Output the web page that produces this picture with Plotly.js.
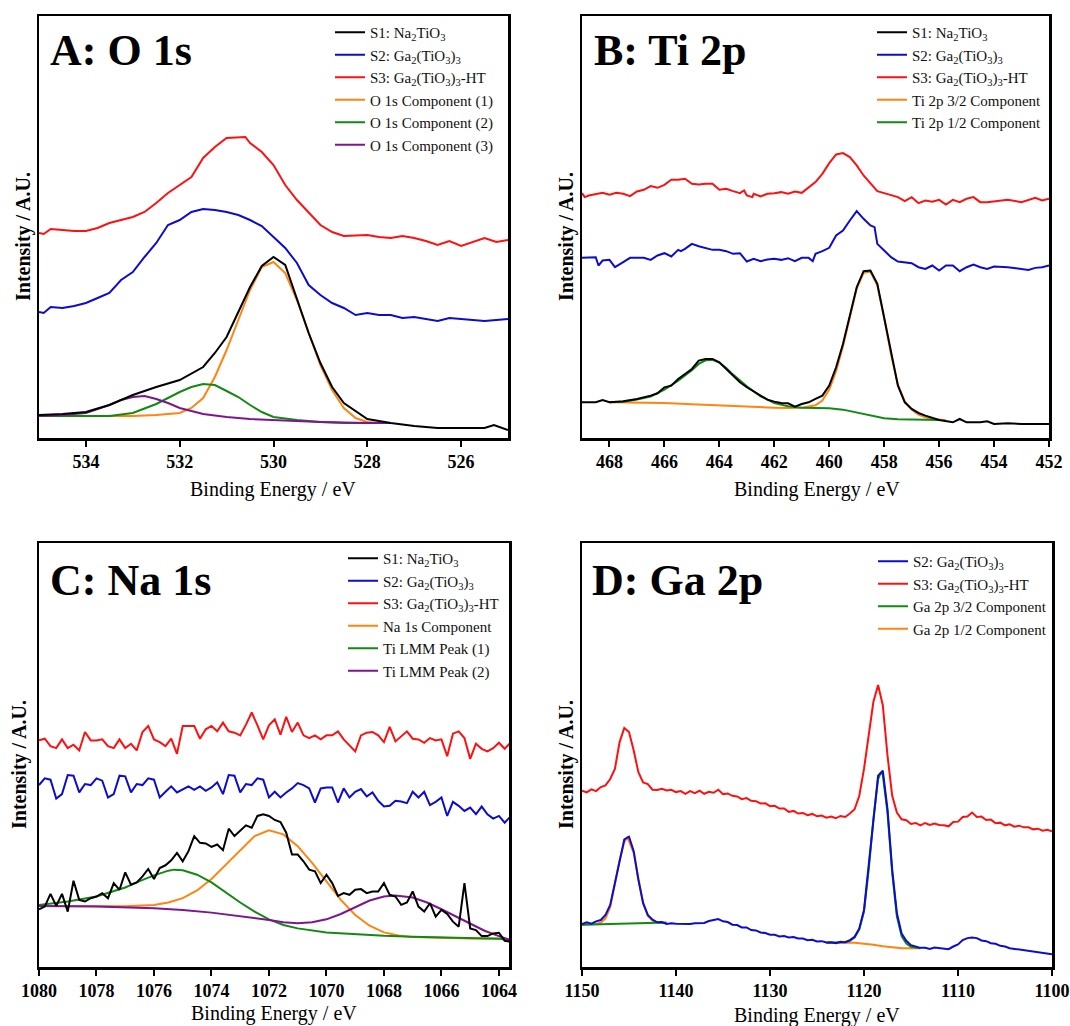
<!DOCTYPE html>
<html>
<head>
<meta charset="utf-8">
<script src="https://cdn.plot.ly/plotly-3.0.1.min.js"></script>
<style>
html,body{margin:0;padding:0;background:#fff;}
#chart{width:1070px;height:1026px;}
</style>
</head>
<body>
<div id="chart"></div>
<script>
// ---------------- Panel A: O 1s ----------------
const o1sS1x = [535,534.5,534,533.5,533,532.5,532,531.5,531.25,531,530.75,530.5,530.25,530,529.75,529.5,529.25,529,528.75,528.5,528,527.5,527,526.5,526,525.5,525.3,525];
const o1sS1y = [23,24,26,33,43,51,58,71,85,101,126,151,172,181,173,138,105,75,51,35,19,15,12,10,10,10,13,8];
const o1sS2x = [535,534.9,534.75,534.5,534.25,534,533.75,533.5,533.25,533,532.75,532.5,532.25,532,531.75,531.5,531.25,531,530.75,530.5,530.25,530,529.75,529.5,529.25,529,528.75,528.5,528.25,528,527.75,527.5,527.25,527,526.75,526.5,526.25,526,525.5,525];
const o1sS2y = [126,125,131,130,132,135,140,145,158,166,181,195,213,218,226,229,228,226,223,218,212,201,190,175,153,143,135,130,123,125,123,123,120,121,119,117,120,119,117,119];
const o1sS3x = [535,534.9,534.75,534.5,534.25,534,533.75,533.5,533.25,533,532.75,532.5,532.25,532,531.75,531.5,531.25,531,530.75,530.6,530.5,530.25,530,529.75,529.5,529.25,529,528.75,528.5,528,527.75,527.5,527.25,527,526.75,526.5,526.25,526,525.75,525.5,525.25,525];
const o1sS3y = [205,204,209,208,207,207,210,215,218,221,226,235,245,253,261,280,291,300,301,301,295,286,273,253,238,225,213,206,202,203,201,200,202,200,197,193,197,192,196,200,196,198];
const o1sC1x = [535,534,533,532.5,532,531.75,531.5,531.25,531,530.75,530.5,530.25,530,529.75,529.5,529.25,529,528.75,528.5,528.25,528,527.75];
const o1sC1y = [22,22,22,23,25,30,40,61,88,118,148,171,176,165,138,105,73,48,30,20,16,15];
const o1sC2x = [535,534,533.5,533,532.5,532,531.75,531.5,531.25,531,530.75,530.5,530.25,530,529.5,529,528.5,528,527.5];
const o1sC2y = [22,22,22,25,34,46,51,54,53,47,41,33,26,21,18,16,15,15,15];
const o1sC3x = [535,534.5,534,533.5,533.25,533,532.75,532.5,532.25,532,531.5,531,530.5,530,529,528,527.5];
const o1sC3y = [22,23,25,33,38,41,42,39,35,30,24,21,19,18,16,15,15];

// ---------------- Panel B: Ti 2p ----------------
const ti2pS1x = [469,468.5,468.25,468,467.5,467,466.5,466.25,466,465.75,465.5,465.25,465,464.75,464.5,464.25,464,463.75,463.5,463.25,463,462.75,462.5,462.25,462,461.75,461.5,461.25,461,460.75,460.5,460.25,460,459.75,459.5,459.25,459,458.75,458.5,458.25,458,457.75,457.5,457.25,457,456.75,456.5,456,455.5,455.25,455,454.5,454.25,454,453.5,453,452.5,452];
const ti2pS1y = [107,107,114,107,110,117,127,134,152,157,177,192,207,232,237,237,227,207,187,167,152,140,127,115,109,105,104,94,102,107,117,127,157,212,282,372,452,500,502,462,362,252,157,107,87,75,67,54,47,57,47,47,50,42,44,42,42,42];
const ti2pS2x = [469,468.75,468.5,468.4,468.25,468,467.8,467.5,467.25,467,466.75,466.5,466.25,466,465.75,465.5,465.4,465.25,465,464.75,464.5,464.25,464,463.75,463.5,463.25,463,462.75,462.5,462.25,462,461.75,461.5,461.25,461,460.75,460.6,460.5,460.25,460,459.75,459.5,459.25,459,458.75,458.5,458.35,458.25,458,457.75,457.5,457,456.75,456.5,456.25,456,455.75,455.5,455.25,455,454.75,454.5,454.25,454,453.5,453,452.75,452.5,452.25,452];
const ti2pS2y = [540,540,542,517,532,534,512,527,540,540,540,534,547,554,544,564,560,567,582,575,570,564,564,560,552,554,529,537,530,535,537,534,539,530,540,540,530,552,560,570,607,622,652,680,657,637,632,582,562,542,529,524,512,507,517,502,517,517,500,512,520,512,507,514,512,507,504,510,512,517];
const ti2pS3x = [469,468.9,468.75,468.5,468.25,468,467.75,467.5,467.25,467,466.75,466.5,466.25,466,465.75,465.5,465.25,465,464.75,464.5,464.25,464,463.75,463.5,463.25,463.1,463,462.8,462.75,462.5,462.25,462,461.75,461.5,461.25,461,460.75,460.5,460.25,460,459.75,459.5,459.25,459,458.75,458.5,458.25,458,457.75,457.5,457.25,457,456.75,456.5,456.25,456,455.75,455.5,455.25,455,454.75,454.5,454.25,454,453.5,453,452.5,452.25,452];
const ti2pS3y = [734,722,727,730,735,729,735,732,725,739,744,755,750,759,774,774,777,762,760,762,762,744,747,740,734,742,727,722,732,724,732,734,737,732,739,735,752,767,792,824,850,854,842,817,787,762,740,734,727,722,710,722,704,712,708,714,700,714,707,717,722,707,707,710,714,707,720,712,717];
const ti2p32x = [468,467,466,465,464,463,462,461.5,461,460.5,460.25,460,459.75,459.5,459.25,459,458.75,458.5,458.25,458,457.75,457.5,457.25,457,456.75,456.5,456.25,456,455.75];
const ti2p32y = [107,106,105,101,97,93,91,90,91,98,112,145,200,275,365,448,495,498,458,360,250,160,110,85,70,62,57,54,53];
const ti2p12x = [468,467.5,467,466.5,466,465.5,465,464.75,464.5,464.25,464,463.75,463.5,463,462.5,462,461.5,461,460.5,460,459.5,459,458.5,458,457.5,457,456];
const ti2p12y = [107,109,115,124,145,172,203,222,233,234,226,210,190,155,125,105,95,91,90,89,85,76,66,59,56,55,54];

// ---------------- Panel C: Na 1s ----------------
const na1sX = [1080,1079.8,1079.6,1079.4,1079.2,1079,1078.8,1078.6,1078.4,1078.2,
  1078,1077.8,1077.6,1077.4,1077.2,1077,1076.8,1076.6,1076.4,1076.2,
  1076,1075.8,1075.6,1075.4,1075.2,1075,1074.8,1074.6,1074.4,1074.2,
  1074,1073.8,1073.6,1073.4,1073.2,1073,1072.8,1072.6,1072.4,1072.2,
  1072,1071.8,1071.6,1071.4,1071.2,1071,1070.8,1070.6,1070.4,1070.2,
  1070,1069.8,1069.6,1069.4,1069.2,1069,1068.8,1068.6,1068.4,1068.2,
  1068,1067.8,1067.6,1067.4,1067.2,1067,1066.8,1066.6,1066.4,1066.2,
  1066,1065.8,1065.6,1065.4,1065.2,1065,1064.8,1064.6,1064.4,1064.2,
  1064,1063.8,1063.6];
const na1sS1y = [172,180,218,182,218,165,257,200,195,205,
  210,220,205,250,230,282,245,252,270,292,
  262,295,303,318,340,315,345,390,370,368,
  358,365,348,412,390,405,422,415,450,455,
  450,438,432,400,335,335,315,290,285,250,
  275,250,212,220,215,230,232,220,225,225,
  250,215,210,185,192,225,180,165,190,150,
  170,158,135,120,250,115,110,92,92,100,
  102,78,75];
const na1sS2y = [542,562,558,502,515,572,570,520,545,542,
  562,555,505,515,570,568,520,545,542,562,
  558,505,522,538,520,528,538,528,538,525,
  535,550,515,572,570,520,545,542,562,558,
  505,522,505,520,532,548,542,532,490,532,
  535,535,490,532,505,522,530,508,520,495,
  478,480,495,493,488,522,505,522,482,492,
  505,450,492,480,465,475,455,478,455,442,
  450,430,448];
const na1sS3y = [675,680,658,652,678,652,662,645,700,675,
  675,678,658,652,678,652,665,645,700,718,
  678,670,658,680,635,718,718,718,680,708,
  718,702,728,702,698,690,722,758,720,678,
  720,738,692,745,700,728,690,682,690,678,
  690,690,702,678,660,642,690,698,700,690,
  670,715,672,688,702,680,678,668,682,675,
  678,628,695,702,682,620,665,650,642,652,
  668,650,668];
const na1sCx = [1080,1078,1077,1076,1075.5,1075,1074.5,1074,1073.5,1073,1072.5,1072,1071.5,1071,1070.5,1070,1069.5,1069,1068.5,1068,1067.5,1067,1066,1065,1064,1063.6];
const na1sCy = [182,182,181,185,192,205,228,262,305,350,390,407,395,360,310,255,200,155,123,103,94,89,86,85,85,82];
const tiLmm1x = [1080,1079,1078,1077,1076.5,1076,1075.5,1075.3,1075,1074.5,1074,1073.5,1073,1072.5,1072,1071.5,1071,1070,1069,1068,1067,1066,1065,1064,1063.6];
const tiLmm1y = [185,195,210,237,256,273,287,290,288,275,252,222,192,165,142,125,115,103,97,93,90,88,86,84,80];
const tiLmm2x = [1080,1078,1076,1075,1074,1073,1072,1071.5,1071,1070.5,1070,1069.5,1069,1068.5,1068,1067.6,1067,1066.5,1066,1065.5,1065,1064.5,1064,1063.6];
const tiLmm2y = [182,180,175,170,162,152,140,133,130,133,142,158,178,198,210,213,207,192,172,150,128,108,92,80];

// ---------------- Panel D: Ga 2p ----------------
const ga2pX = [1150,1149.5,1149,1148.5,1148,1147.5,1147,1146.5,1146,1145.5,
  1145,1144.5,1144,1143.5,1143,1142.5,1142,1141.5,1141,1140.5,
  1140,1139.5,1139,1138.5,1138,1137.5,1137,1136.5,1136,1135.5,
  1135,1134.5,1134,1133.5,1133,1132.5,1132,1131.5,1131,1130.5,
  1130,1129.5,1129,1128.5,1128,1127.5,1127,1126.5,1126,1125.5,
  1125,1124.5,1124,1123.5,1123,1122.5,1122,1121.5,1121,1120.5,
  1120,1119.5,1119,1118.5,1118,1117.5,1117,1116.5,1116,1115.5,
  1115,1114.5,1114,1113.5,1113,1112.5,1112,1111.5,1111,1110.5,
  1110,1109.5,1109,1108.5,1108,1107.5,1107,1106.5,1106,1105.5,
  1105,1104.5,1104,1103.5,1103,1102.5,1102,1101.5,1101,1100.5,
  1100];
const ga2pS2y = [128,133,129,136,140,155,185,250,320,380,
  388,345,260,190,155,141,133,134,128,130,
  129,128,127,128,130,130,131,137,139,143,
  136,134,126,125,118,118,110,109,103,101,
  96,96,91,92,88,89,85,85,80,81,
  76,77,73,74,71,75,74,80,90,115,
  170,300,450,570,585,470,290,160,100,78,
  65,61,57,57,54,58,56,55,53,61,
  67,80,86,88,86,79,77,71,69,63,
  61,56,54,50,49,46,46,42,41,39,
  38];
const ga2pS3y = [525,520,529,524,536,541,560,590,670,712,
  700,645,580,550,545,528,527,531,526,528,
  521,524,516,524,518,525,516,522,519,528,
  515,517,510,508,500,503,495,494,487,488,
  479,480,472,472,462,465,457,459,452,456,
  449,451,445,448,443,450,447,457,470,510,
  590,690,790,840,780,630,510,460,440,437,
  426,429,422,429,423,427,423,422,419,432,
  433,447,448,460,447,448,438,439,428,430,
  422,425,418,421,416,416,410,412,406,409,
  404];
const ga32aX = [1150,1148,1146,1144,1142,1141];
const ga32aY = [126,128,129,131,132,132];
const ga32bX = [1124,1122,1121.5,1121,1120.5,1120,1119.5,1119,1118.5,1118.2,1118,1117.5,1117,1116.5,1116,1115.5,1115,1114.5,1114];
const ga32bY = [72,74,78,88,112,165,290,440,560,580,572,460,280,150,92,70,60,57,56];
const ga12aX = [1150,1149,1148.5,1148,1147.5,1147,1146.5,1146,1145.5,1145.2,1145,1144.5,1144,1143.5,1143,1142.5,1142,1141];
const ga12aY = [126,127,128,132,145,178,245,318,372,385,375,340,262,192,152,138,133,132];
const ga12bX = [1124,1123,1122,1121,1120,1119,1118,1117,1116,1115,1114];
const ga12bY = [72,73,73,72,70,66,62,58,56,56,56];

// legend labels
const lblS1 = 'S1: Na<sub>2</sub>TiO<sub>3</sub>';
const lblS2 = 'S2: Ga<sub>2</sub>(TiO<sub>3</sub>)<sub>3</sub>';
const lblS3 = 'S3: Ga<sub>2</sub>(TiO<sub>3</sub>)<sub>3</sub>-HT';

const C = {black:'#000000', blue:'#0c0cd0', red:'#ff1010', orange:'#ff8410', green:'#128a12', purple:'#7e1590'};
const SERIF = 'Liberation Serif, Times New Roman, serif';

function tr(x, y, name, color, ax, lg, rank){
  return {x:x, y:y, name:name, type:'scatter', mode:'lines',
    line:{color:color, width:2}, xaxis:'x'+ax, yaxis:'y'+ax,
    legend:lg, legendrank:rank, connectgaps:false, hoverinfo:'x+y+name'};
}
function gap(a, b){ return a.concat([null], b); }

const data = [
  // A (components under data)
  tr(o1sC1x, o1sC1y, 'O 1s Component (1)', C.orange, '', 'legend', 4),
  tr(o1sC2x, o1sC2y, 'O 1s Component (2)', C.green, '', 'legend', 5),
  tr(o1sC3x, o1sC3y, 'O 1s Component (3)', C.purple, '', 'legend', 6),
  tr(o1sS3x, o1sS3y, lblS3, C.red, '', 'legend', 3),
  tr(o1sS2x, o1sS2y, lblS2, C.blue, '', 'legend', 2),
  tr(o1sS1x, o1sS1y, lblS1, C.black, '', 'legend', 1),
  // B
  tr(ti2p32x, ti2p32y, 'Ti 2p 3/2 Component', C.orange, '2', 'legend2', 4),
  tr(ti2p12x, ti2p12y, 'Ti 2p 1/2 Component', C.green, '2', 'legend2', 5),
  tr(ti2pS3x, ti2pS3y, lblS3, C.red, '2', 'legend2', 3),
  tr(ti2pS2x, ti2pS2y, lblS2, C.blue, '2', 'legend2', 2),
  tr(ti2pS1x, ti2pS1y, lblS1, C.black, '2', 'legend2', 1),
  // C
  tr(na1sCx, na1sCy, 'Na 1s Component', C.orange, '3', 'legend3', 4),
  tr(tiLmm1x, tiLmm1y, 'Ti LMM Peak (1)', C.green, '3', 'legend3', 5),
  tr(tiLmm2x, tiLmm2y, 'Ti LMM Peak (2)', C.purple, '3', 'legend3', 6),
  tr(na1sX, na1sS3y, lblS3, C.red, '3', 'legend3', 3),
  tr(na1sX, na1sS2y, lblS2, C.blue, '3', 'legend3', 2),
  tr(na1sX, na1sS1y, lblS1, C.black, '3', 'legend3', 1),
  // D
  tr(gap(ga12aX, ga12bX), gap(ga12aY, ga12bY), 'Ga 2p 1/2 Component', C.orange, '4', 'legend4', 4),
  tr(gap(ga32aX, ga32bX), gap(ga32aY, ga32bY), 'Ga 2p 3/2 Component', C.green, '4', 'legend4', 3),
  tr(ga2pX, ga2pS3y, lblS3, C.red, '4', 'legend4', 2),
  tr(ga2pX, ga2pS2y, lblS2, C.blue, '4', 'legend4', 1)
];

const W = 1070, H = 1026;
const px = v => v / W;
const py = v => 1 - v / H;

function xax(dom, range, dtick, anchor){
  return {domain:dom, range:range, anchor:anchor, dtick:dtick, tick0:0,
    ticks:'outside', ticklen:6, tickwidth:2, tickcolor:'#000',
    showline:true, mirror:true, linewidth:2.5, linecolor:'#000',
    showgrid:false, zeroline:false, fixedrange:true,
    tickfont:{family:SERIF, size:18, color:'#000', weight:'bold'}};
}
function yax(dom, range, anchor){
  return {domain:dom, range:range, anchor:anchor, showticklabels:false, ticks:'',
    showline:true, mirror:true, linewidth:2.5, linecolor:'#000',
    showgrid:false, zeroline:false, fixedrange:true};
}
function leg(x, y){
  return {x:px(x), y:py(y), xanchor:'left', yanchor:'top', bgcolor:'rgba(0,0,0,0)',
    borderwidth:0, tracegroupgap:0, itemwidth:30,
    font:{family:SERIF, size:15, color:'#111'}};
}
function ann(text, x, y, size, bold, angle, xanchor){
  return {text:text, x:px(x), y:py(y), xref:'paper', yref:'paper', showarrow:false,
    xanchor:xanchor||'center', yanchor:'middle', textangle:angle||0,
    font:{family:SERIF, size:size, color:'#000', weight: bold ? 'bold' : 'normal'}};
}

const topY = [py(438), py(16)];
const botY = [py(967), py(543)];

const layout = {
  width:W, height:H, margin:{l:0, r:0, t:0, b:0},
  paper_bgcolor:'#fff', plot_bgcolor:'#fff', showlegend:true,
  xaxis: xax([px(39), px(508)], [535, 525], 2, 'y'),
  yaxis: yax(topY, [0, 422], 'x'),
  xaxis2: xax([px(582), px(1049)], [469, 452], 2, 'y2'),
  yaxis2: yax(topY, [0, 1265], 'x2'),
  xaxis3: xax([px(39), px(509)], [1080, 1063.65], 2, 'y3'),
  yaxis3: yax(botY, [0, 1263], 'x3'),
  xaxis4: xax([px(582), px(1052)], [1150, 1100], 10, 'y4'),
  yaxis4: yax(botY, [0, 1263], 'x4'),
  legend: leg(330, 16),
  legend2: leg(872, 16),
  legend3: leg(343, 542),
  legend4: leg(873, 545),
  annotations: [
    ann('A: O 1s', 48, 51, 44, true, 0, 'left'),
    ann('B: Ti 2p', 592, 51, 44, true, 0, 'left'),
    ann('C: Na 1s', 48, 580, 44, true, 0, 'left'),
    ann('D: Ga 2p', 590, 580, 44, true, 0, 'left'),
    ann('Binding Energy / eV', 273, 489, 20, false),
    ann('Binding Energy / eV', 817, 489, 20, false),
    ann('Binding Energy / eV', 274, 1013, 20, false),
    ann('Binding Energy / eV', 817, 1015, 20, false),
    ann('Intensity / A.U.', 23, 237, 20, true, -90),
    ann('Intensity / A.U.', 566, 237, 20, true, -90),
    ann('Intensity / A.U.', 19, 765, 20, true, -90),
    ann('Intensity / A.U.', 566, 765, 20, true, -90)
  ]
};

Plotly.newPlot('chart', data, layout, {displayModeBar:false, staticPlot:true});
</script>
</body>
</html>
